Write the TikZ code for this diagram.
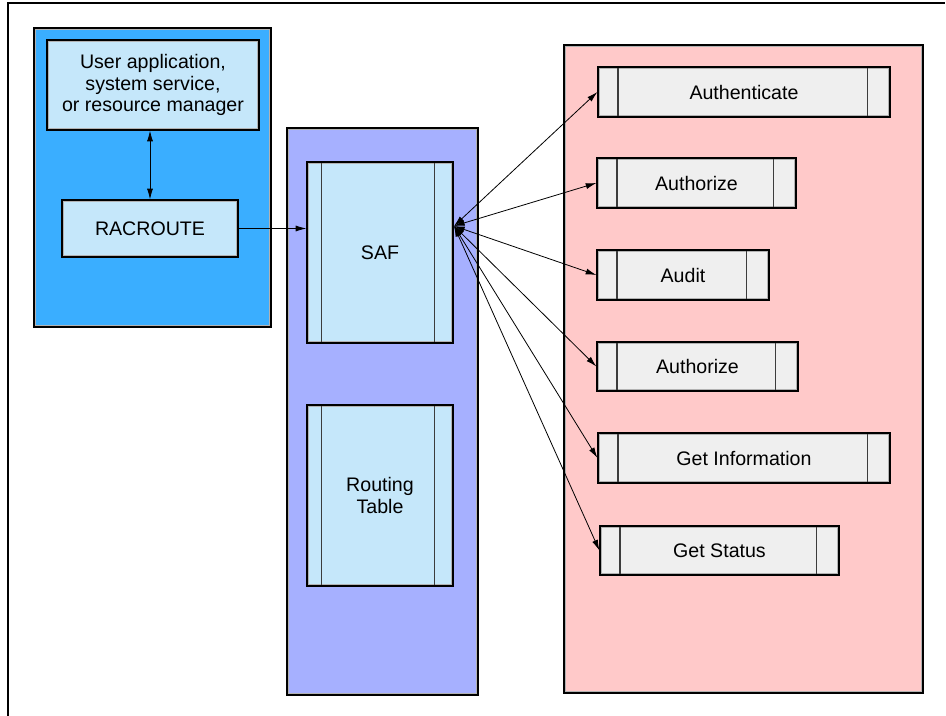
\documentclass[tikz,border=0pt]{standalone}
\usepackage{fontspec}
\setmainfont{Liberation Sans}
\usetikzlibrary{arrows.meta}

\definecolor{panelblue}{RGB}{58,174,255}
\definecolor{panelpurple}{RGB}{166,176,255}
\definecolor{panelpink}{RGB}{255,201,201}
\definecolor{boxblue}{RGB}{197,231,250}
\definecolor{itemgray}{RGB}{239,239,239}
\definecolor{bandgray}{RGB}{178,178,178}
\definecolor{bargray}{RGB}{60,60,60}

\tikzset{
	panel/.style={draw=black, line width=0.9pt, inner sep=0pt,
		path picture={\draw[bandgray, line width=3pt] (path picture bounding box.south west) rectangle (path picture bounding box.north east);}},
	barred/.style 2 args={path picture={
		\draw[bandgray, line width=3pt] (path picture bounding box.south west) rectangle (path picture bounding box.north east);
		\draw[bargray, line width=0.8pt] ([xshift=#1]path picture bounding box.south west) -- ([xshift=#1]path picture bounding box.north west)
			([xshift=-#2]path picture bounding box.south east) -- ([xshift=-#2]path picture bounding box.north east);}},
	box/.style={panel, fill=boxblue, align=center, font=\fontsize{14.7}{16.2}\selectfont},
	item/.style={box, fill=itemgray, barred={15pt}{17pt}},
	link/.style={line width=0.6pt, >={Latex[length=8pt,width=4.5pt]}}
}

\begin{document}
\begin{tikzpicture}[x=0.75pt, y=-0.75pt]
		\useasboundingbox (0,0) rectangle (946,716);
		\draw[line width=1pt] (8,716) -- (8,3) -- (945,3);
		\node[panel, fill=panelblue, minimum width=177.75pt, minimum height=224.25pt] (client) at (152.5,177.5) {};
		\node[box, minimum width=159pt, minimum height=67.5pt] (user) at (153,85) {User application,\\system service,\\or resource manager};
		\node[box, minimum width=132pt, minimum height=42.75pt] (racroute) at (150,228.5) {RACROUTE};
		\node[panel, fill=panelpurple, minimum width=143.25pt, minimum height=425.25pt] (router) at (382.5,411.5) {};
		\node[box, barred={11pt}{14pt}, minimum width=109.5pt, minimum height=135.75pt] (saf) at (380,252.5) {SAF};
		\node[box, barred={11pt}{14pt}, minimum width=109.5pt, minimum height=135.75pt] (table) at (380,495.5) {Routing\\Table};
		\node[panel, fill=panelpink, minimum width=269.25pt, minimum height=486pt] (services) at (743.5,369) {};
		\node[item, minimum width=219pt, minimum height=37.5pt] (auth) at (744,92) {Authenticate};
		\node[item, minimum width=149.25pt, minimum height=37.5pt] (authz) at (696.5,183) {Authorize};
		\node[item, minimum width=129pt, minimum height=37.5pt] (audit) at (683,275) {Audit};
		\node[item, minimum width=150.75pt, minimum height=36.75pt] (authzb) at (697.5,366.5) {Authorize};
		\node[item, minimum width=219pt, minimum height=37.5pt] (info) at (744,458) {Get Information};
		\node[item, minimum width=179.25pt, minimum height=36.75pt] (status) at (719.5,550.5) {Get Status};
		\draw[link,<->] (racroute.north) -- (racroute.north |- user.south);
		\draw[link,->] (racroute.east) -- (racroute.east -| saf.west);
		\coordinate (hub) at (454,226);
		\foreach \n in {auth,authz,audit,authzb,info,status}
		\draw[link,<->] (hub) -- (\n.west);
\end{tikzpicture}
\end{document}
